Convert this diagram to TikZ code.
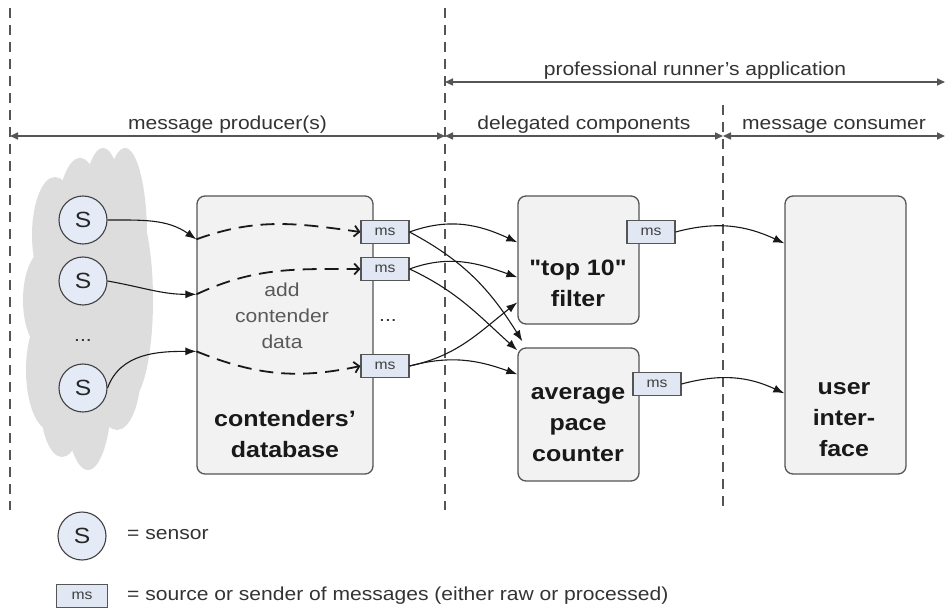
\documentclass[tikz,border=0pt]{standalone}
\usepackage{fontspec}
\setmainfont{Liberation Sans}[FakeStretch=1.12, Ligatures=TeXOff]
\usepackage{tikz}
\usetikzlibrary{arrows.meta,calc}

\definecolor{boxfill}{HTML}{F2F2F2}
\definecolor{msfill}{HTML}{E1E8F4}
\definecolor{sensfill}{HTML}{E4EBF7}
\definecolor{cloudgray}{HTML}{DDDDDD}
\definecolor{edgegray}{HTML}{555555}
\definecolor{labelgray}{HTML}{333333}

\tikzset{
  sensor/.style={circle, draw=black!75, fill=sensfill, line width=1.1pt, minimum size=48pt, inner sep=0pt, text=black!85, font=\fontsize{22}{22}\selectfont},
  msbox/.style={draw=edgegray, fill=msfill, line width=1.1pt, minimum width=48pt, minimum height=23pt, inner sep=0pt, text=black!75, font=\fontsize{14}{14}\selectfont},
  compbox/.style={draw=edgegray, fill=boxfill, line width=1.3pt, rounded corners=8pt, inner sep=0pt},
  boxtext/.style={align=center, inner sep=0pt, text=black!90, font=\bfseries\fontsize{22.3}{31}\selectfont},
  plaintext/.style={align=center, inner sep=0pt, text=labelgray, font=\fontsize{18.8}{26}\selectfont},
  divider/.style={edgegray, line width=1.1pt, dash pattern=on 10pt off 7pt},
  dimarrow/.style={edgegray, line width=1.6pt, {Triangle[length=8pt,width=7pt]}-{Triangle[length=8pt,width=7pt]}},
  dimlabel/.style={above, inner sep=2pt, text=labelgray, font=\fontsize{18.8}{18.8}\selectfont},
  flow/.style={black!90, line width=1.1pt, -{Latex[length=11pt,width=8pt]}},
  dashflow/.style={black!90, line width=1.8pt, dash pattern=on 14pt off 8pt, -{Straight Barb[length=5pt,width=11pt]}},
}

\begin{document}
\begin{tikzpicture}[x=1pt,y=1pt,yscale=-1,xscale=1]
\useasboundingbox (0,0) rectangle (947,612);

% sensor cloud
\fill[cloudgray] (55,235) ellipse (23 and 58);
\fill[cloudgray] (80,230) ellipse (24 and 72);
\fill[cloudgray] (103,230) ellipse (22 and 82);
\fill[cloudgray] (125,235) ellipse (22 and 87);
\fill[cloudgray] (130,300) ellipse (23 and 100);
\fill[cloudgray] (45,300) ellipse (22 and 50);
\fill[cloudgray] (50,370) ellipse (24 and 60);
\fill[cloudgray] (62,400) ellipse (22 and 57);
\fill[cloudgray] (88,390) ellipse (24 and 80);
\fill[cloudgray] (117,370) ellipse (24 and 60);
\fill[cloudgray] (90,300) ellipse (55 and 110);

% dividers
\draw[divider] (10,8) -- (10,510);
\draw[divider] (445,8) -- (445,510);
\draw[divider] (723,105) -- (723,510);

% ranges
\coordinate (p0) at (10,136);
\coordinate (p1) at (445,136);
\coordinate (p2) at (723,136);
\coordinate (p3) at (945,136);
\coordinate (q0) at (445,82);
\coordinate (q1) at (945,82);
\draw[dimarrow] (q0) -- (q1) node[dimlabel, midway] (lapp) {professional runner’s application};
\draw[dimarrow] (p0) -- (p1) node[dimlabel, midway] (lprod) {message producer(s)};
\draw[dimarrow] (p1) -- (p2) node[dimlabel, midway] (ldeleg) {delegated components};
\draw[dimarrow] (p2) -- (p3) node[dimlabel, midway] (lcons) {message consumer};

% sensors
\node[sensor] (s1) at (83,220) {S};
\node[sensor] (s2) at (83,281) {S};
\node[plaintext] (sdots) at (83,340) {...};
\node[sensor] (s3) at (83,388) {S};

% components
\node[compbox, minimum width=176pt, minimum height=278pt] (db) at (285,335) {};
\node[plaintext, text=black!65] (dbnote) at (282,316) {add\\contender\\data};
\node[boxtext] (dbtext) at (285,434) {contenders’\\database};
\node[plaintext] (msdots) at (388,320) {...};

\node[compbox, minimum width=121pt, minimum height=128pt] (filter) at (578.5,260) {};
\node[boxtext] (filtertext) at (578,283) {"top 10"\\filter};

\node[compbox, minimum width=121pt, minimum height=133pt] (avg) at (578.5,414.5) {};
\node[boxtext] (avgtext) at (578,425) {average\\pace\\counter};

\node[compbox, minimum width=121pt, minimum height=278pt] (ui) at (845.5,335) {};
\node[boxtext] (uitext) at (844,420) {user\\inter-\\face};

% message sources
\node[msbox] (ms1) at (385,232) {ms};
\node[msbox] (ms2) at (385,269) {ms};
\node[msbox] (ms3) at (385,366) {ms};
\node[msbox] (fms) at (651,232) {ms};
\node[msbox] (ams) at (657,384) {ms};

% entry points
\coordinate (in1) at ($(db.north west)+(0,44)$);
\coordinate (in2) at ($(db.north west)+(0,99)$);
\coordinate (in3) at ($(db.north west)+(0,156)$);
\coordinate (f1) at ($(filter.north west)+(0,47)$);
\coordinate (f2) at ($(filter.north west)+(0,82)$);
\coordinate (f3) at ($(filter.north west)+(0,107)$);
\coordinate (a1) at ($(avg.north west)+(5,-6)$);
\coordinate (a2) at ($(avg.north west)+(0,3)$);
\coordinate (a3) at ($(avg.north west)+(0,27)$);
\coordinate (u1) at ($(ui.north west)+(0,48)$);
\coordinate (u2) at ($(ui.north west)+(0,198)$);

% sensor data (y axis is flipped, so angles are mirrored)
\draw[flow] (s1.east) to[out=0,in=215] (in1);
\draw[flow] (s2.east) to[out=10,in=180] (in2);
\draw[flow] (s3.east) to[out=-70,in=180] (in3);

\draw[dashflow] (in1) to[out=-20,in=188] (ms1.west);
\draw[dashflow] (in2) to[out=-25,in=180] (ms2.west);
\draw[dashflow] (in3) to[out=22,in=168] (ms3.west);

% delegated processing
\draw[flow] (ms1.east) to[out=-20,in=205] (f1);
\draw[flow] (ms1.east) to[out=28,in=238] (a1);
\draw[flow] (ms2.east) to[out=-20,in=200] (f2);
\draw[flow] (ms2.east) to[out=25,in=222] (a2);
\draw[flow] (ms3.east) to[out=-12,in=142] (f3);
\draw[flow] (ms3.east) to[out=-15,in=200] (a3);

\draw[flow] (fms.east) to[out=-15,in=205] (u1);
\draw[flow] (ams.east) to[out=-15,in=205] (u2);

% legend
\node[sensor] (lgsensor) at (82,536) {S};
\node[plaintext, anchor=west] (lgsensortext) at (127,535) {= sensor};
\node[msbox, minimum width=51pt] (lgms) at (82,596) {ms};
\node[plaintext, anchor=west] (lgmstext) at (127,596) {= source or sender of messages (either raw or processed)};
\end{tikzpicture}
\end{document}
